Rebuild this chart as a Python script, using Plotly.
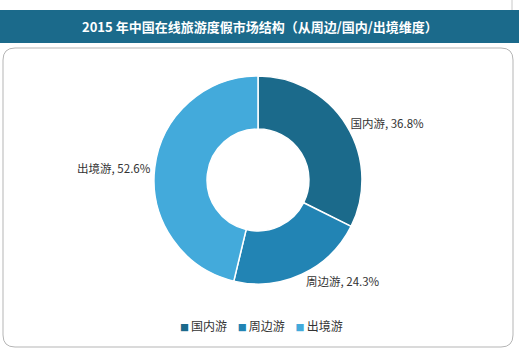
import plotly.graph_objects as go

categories = ["国内游", "周边游", "出境游"]
values = [36.8, 24.3, 52.6]
colors = ["#1b6a8b", "#2284b4", "#43aadb"]
title = "2015 年中国在线旅游度假市场结构（从周边/国内/出境维度）"

W, H = 520, 354
FONT = "Noto Sans CJK SC"

def px(x):
    return x / W

def py(y):
    return 1 - y / H

fig = go.Figure()
fig.add_trace(go.Pie(
    labels=categories,
    values=values,
    hole=0.49,
    sort=False,
    direction="clockwise",
    rotation=0,
    marker=dict(colors=colors, line=dict(color="white", width=1.5)),
    texttemplate="%{label}, %{value:.1f}%",
    textposition="outside",
    textfont=dict(family=FONT, size=11.5, color="#333333"),
    hoverinfo="label+value",
    showlegend=False,
    domain=dict(x=[px(258 - 104), px(258 + 104)], y=[py(284), py(76)]),
))

# rounded panel
x0, x1, y0, y1 = px(3), px(513), py(347), py(48)
rx, ry = 12 / W, 12 / H
path = (f"M {x0+rx},{y1} L {x1-rx},{y1} Q {x1},{y1} {x1},{y1-ry} "
        f"L {x1},{y0+ry} Q {x1},{y0} {x1-rx},{y0} L {x0+rx},{y0} "
        f"Q {x0},{y0} {x0},{y0+ry} L {x0},{y1-ry} Q {x0},{y1} {x0+rx},{y1} Z")
shapes = [
    dict(type="path", path=path, xref="paper", yref="paper",
         line=dict(color="#b5b5b5", width=1), fillcolor="white", layer="below"),
    dict(type="rect", xref="paper", yref="paper", x0=0, x1=px(519), y0=py(43), y1=py(10),
         line=dict(width=0), fillcolor="#1b6a8b", layer="below"),
    dict(type="line", xref="paper", yref="paper", x0=px(512), x1=px(512), y0=py(10), y1=1,
         line=dict(color="#c8c8c8", width=1)),
]

# custom compact legend built from the data arrays
legend_text = "&nbsp;&nbsp;&nbsp;&nbsp;".join(
    f"<span style='color:{c};font-size:9px'>■&nbsp;</span>{name}"
    for name, c in zip(categories, colors)
)

fig.update_layout(
    width=W, height=H,
    margin=dict(l=0, r=0, t=0, b=0),
    paper_bgcolor="white",
    plot_bgcolor="white",
    shapes=shapes,
    annotations=[
        dict(text=f"<b>{title}</b>", x=0.5, y=py(26.5), xref="paper", yref="paper",
             showarrow=False, font=dict(family=FONT, size=13, color="white"),
             xanchor="center", yanchor="middle"),
        dict(text=legend_text, x=px(261), y=py(325), xref="paper", yref="paper",
             showarrow=False, font=dict(family=FONT, size=12, color="#333333"),
             xanchor="center", yanchor="middle"),
    ],
    showlegend=False,
)

fig.write_html("out.html")
